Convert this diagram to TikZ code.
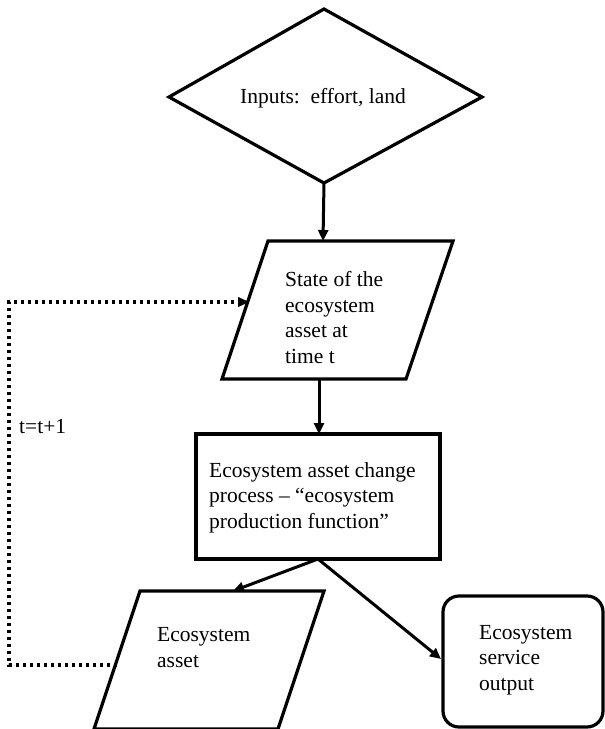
\documentclass[tikz,border=0pt]{standalone}
\usepackage{fontspec}
\setmainfont{Liberation Serif}
\usetikzlibrary{arrows.meta}
\tikzset{
  shapeline/.style={draw=black, line width=3.2pt, line join=miter},
  conn/.style={draw=black, line width=3pt, -{Triangle[length=11pt,width=10pt]}},
  dotconn/.style={draw=black, line width=3.4pt, dash pattern=on 3.4pt off 3.6pt},
  tiponly/.style={draw=black, line width=0.1pt, -{Triangle[length=11pt,width=10pt]}},
  txt/.style={inner sep=0pt, font=\fontsize{21.5}{25.5}\selectfont, align=left, anchor=base west},
}
\begin{document}
\begin{tikzpicture}[x=1pt,y=-1pt]
\useasboundingbox (0,0) rectangle (605,729);
% diamond
\coordinate (dtop) at (324,9);
\coordinate (dleft) at (169,97);
\coordinate (dright) at (482,97);
\coordinate (dbot) at (324,183);
\draw[shapeline] (dtop) -- (dright) -- (dbot) -- (dleft) -- cycle;
\node[txt, anchor=base] (inputs) at (323,103) {Inputs:\ \ effort, land};
% parallelogram 1
\coordinate (p1tl) at (268,241);
\coordinate (p1tr) at (453,241);
\coordinate (p1br) at (406,379);
\coordinate (p1bl) at (222,379);
\draw[shapeline] (p1tl) -- (p1tr) -- (p1br) -- (p1bl) -- cycle;
\coordinate (p1top) at (323,241);
\coordinate (p1bot) at (319,379);
\coordinate (p1left) at (249,302);
\coordinate (p1leftpre) at (245,302);
\node[txt] (state) at (285,363) {State of the\\ecosystem\\asset at\\time t};
% rectangle
\draw[shapeline] (196,434) rectangle (440,559);
\coordinate (rtop) at (319,434);
\coordinate (rbot) at (318,559);
\node[txt] (process) at (209,528) {Ecosystem asset change\\process -- ``ecosystem\\production function''};
% parallelogram 2
\coordinate (p2tl) at (140,591);
\coordinate (p2tr) at (324,591);
\coordinate (p2br) at (278,729);
\coordinate (p2bl) at (94,729);
\draw[shapeline] (p2tl) -- (p2tr) -- (p2br) -- (p2bl) -- cycle;
\coordinate (p2top) at (233,591);
\coordinate (p2left) at (117,665);
\node[txt] (asset) at (157,667) {Ecosystem\\asset};
% rounded box
\draw[shapeline, rounded corners=16pt] (443,596) rectangle (603,727);
\coordinate (oleft) at (441,659);
\node[txt] (output) at (479,690) {Ecosystem\\service\\output};
% connectors
\draw[conn] (dbot) -- (p1top);
\draw[conn] (p1bot) -- (rtop);
\draw[conn] (rbot) -- (p2top);
\draw[conn] (rbot) -- (oleft);
% feedback loop
\coordinate (lb) at (9,665);
\coordinate (lt) at (9,302);
\draw[dotconn] (p2left) -- (lb) -- (lt) -- (p1leftpre);
\draw[tiponly] (p1leftpre) -- (p1left);
\node[txt] (tlabel) at (19,433) {t=t+1};
\end{tikzpicture}
\end{document}
